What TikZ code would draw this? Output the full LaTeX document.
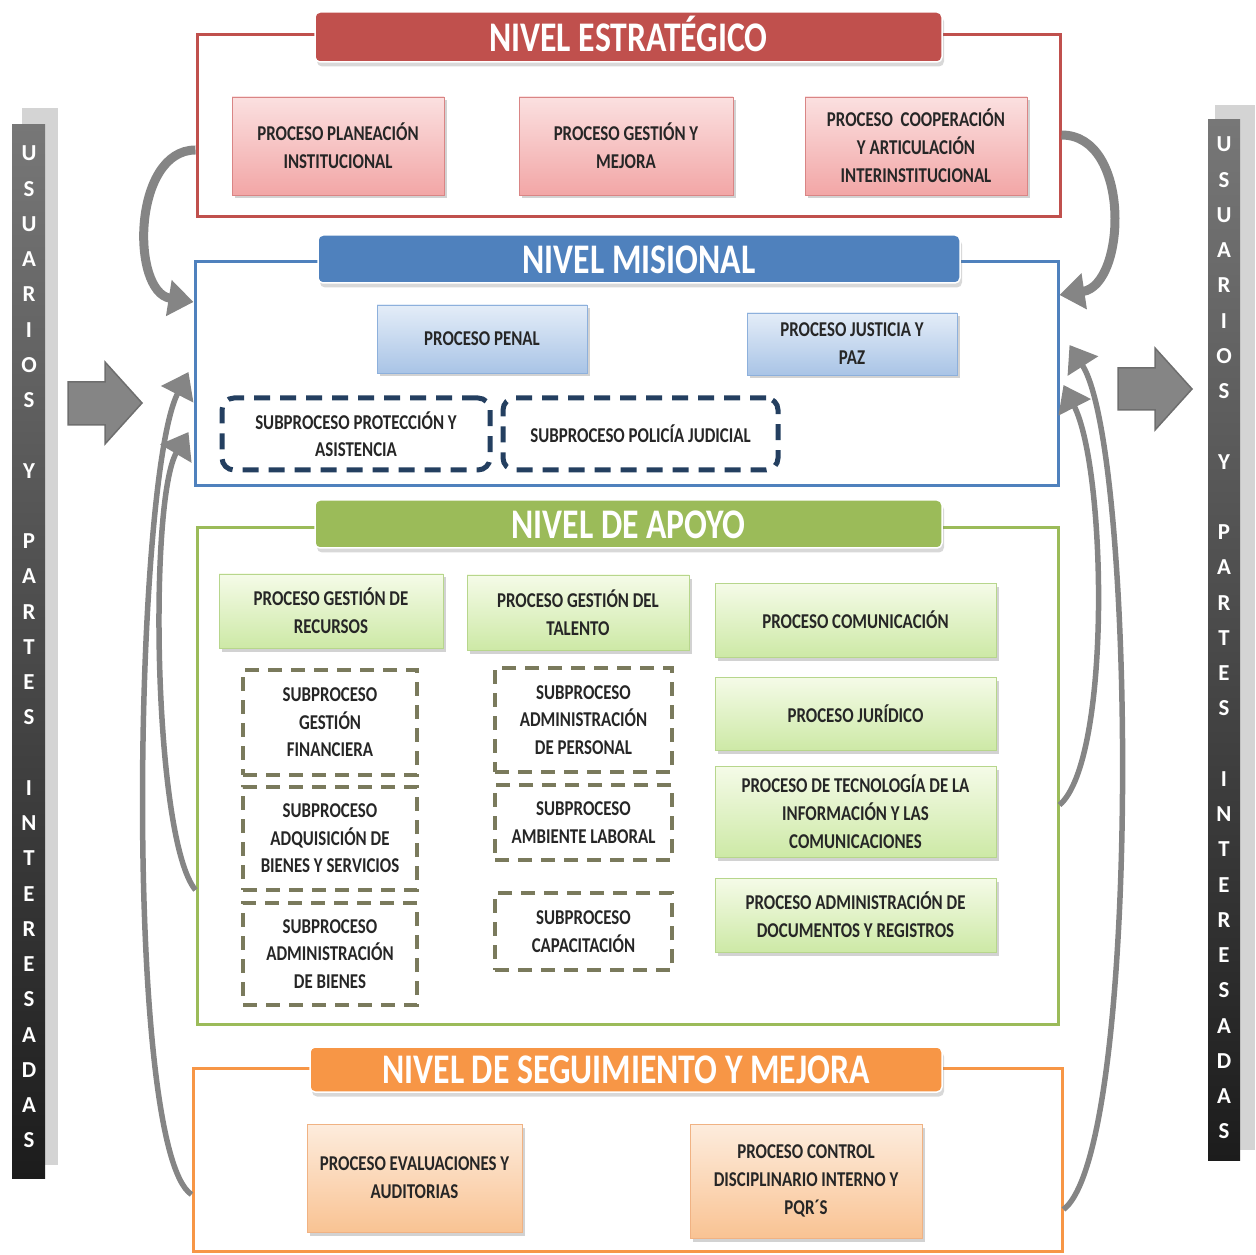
\documentclass[tikz,border=0pt]{standalone}
\usepackage{fontspec}
\setmainfont{Carlito}
\newfontfamily\estrecha[FakeStretch=0.8]{Carlito}
\usetikzlibrary{shadows,arrows.meta}

\definecolor{rojo}{HTML}{C0504D}
\definecolor{rojoborde}{HTML}{D98585}
\definecolor{rojoclaro}{HTML}{FBE0E0}
\definecolor{rojomedio}{HTML}{F2A6A6}
\definecolor{azul}{HTML}{4F81BD}
\definecolor{azulborde}{HTML}{8DB0DC}
\definecolor{azulclaro}{HTML}{E4EDF8}
\definecolor{azulmedio}{HTML}{A9C4E6}
\definecolor{azuloscuro}{HTML}{243F60}
\definecolor{verde}{HTML}{9BBB59}
\definecolor{verdeborde}{HTML}{B7D68C}
\definecolor{verdeclaro}{HTML}{F5FBE8}
\definecolor{verdemedio}{HTML}{CDE9A6}
\definecolor{oliva}{HTML}{7A7A5C}
\definecolor{naranja}{HTML}{F79646}
\definecolor{naranjaborde}{HTML}{F0B283}
\definecolor{naranjaclaro}{HTML}{FDECDD}
\definecolor{naranjamedio}{HTML}{F9C393}
\definecolor{grisflecha}{HTML}{858585}
\definecolor{grisborde}{HTML}{6E6E6E}
\definecolor{grisclaro}{HTML}{D4D4D4}
\definecolor{barraalta}{HTML}{777777}
\definecolor{barrabaja}{HTML}{1C1C1C}

\tikzset{
  sz/.style 2 args={minimum width=#1*0.2mm, minimum height=#2*0.2mm},
  nivel/.style={draw=#1, line width=0.6mm, fill=white, inner sep=0pt},
  titulo/.style={fill=#1, draw=white, line width=0.3mm, rounded corners=1mm,
    text=white, inner sep=0pt, text height=16pt, text depth=0pt,
    font=\estrecha\bfseries\fontsize{24}{24}\selectfont,
    drop shadow={opacity=0.3, shadow xshift=0.4mm, shadow yshift=-0.9mm}},
  proc/.style={align=center, inner sep=0pt, text=black!85,
    font=\estrecha\bfseries\fontsize{12}{16}\selectfont,
    drop shadow={opacity=0.35, shadow xshift=0.5mm, shadow yshift=-0.7mm}},
  procrojo/.style={proc, draw=rojoborde, top color=rojoclaro, bottom color=rojomedio},
  procazul/.style={proc, draw=azulborde, top color=azulclaro, bottom color=azulmedio},
  procverde/.style={proc, draw=verdeborde, top color=verdeclaro, bottom color=verdemedio},
  procnaranja/.style={proc, draw=naranjaborde, top color=naranjaclaro, bottom color=naranjamedio},
  sub/.style={align=center, inner sep=0pt, fill=white, text=black!85,
    font=\estrecha\bfseries\fontsize{12}{15.6}\selectfont},
  subazul/.style={sub, draw=azuloscuro, line width=1mm, dash pattern=on 3.2mm off 2mm, rounded corners=2.4mm},
  subverde/.style={sub, draw=oliva, line width=0.75mm, dash pattern=on 2.8mm off 1.8mm},
  curva/.style={draw=grisflecha, line width=1.1mm, -{Triangle[length=5mm,width=7mm]}},
  bloque/.style={fill=grisflecha, draw=grisborde, line width=0.3mm},
  barra/.style={top color=barraalta, bottom color=barrabaja, inner sep=0pt},
  letras/.style={text=white, align=center, inner sep=0pt,
    font=\bfseries\fontsize{13}{20.06}\selectfont}
}

\begin{document}
\begin{tikzpicture}[x=0.2mm,y=-0.2mm]
  \useasboundingbox (0,0) rectangle (1256,1255);

  % usuarios y partes interesadas
  \fill[grisclaro] (22,108) rectangle (58,1165);
  \fill[grisclaro] (1215,105) rectangle (1255,1150);
  \node[barra, sz={33}{1053}] (barraiz) at (28.5,651.5) {};
  \node[barra, sz={32}{1040}] (barrader) at (1224,640) {};
  \node[letras] (usuiz) at (29,647) {U\\S\\U\\A\\R\\I\\O\\S\\\mbox{}\\Y\\\mbox{}\\P\\A\\R\\T\\E\\S\\\mbox{}\\I\\N\\T\\E\\R\\E\\S\\A\\D\\A\\S};
  \node[letras] (usuder) at (1224,638) {U\\S\\U\\A\\R\\I\\O\\S\\\mbox{}\\Y\\\mbox{}\\P\\A\\R\\T\\E\\S\\\mbox{}\\I\\N\\T\\E\\R\\E\\S\\A\\D\\A\\S};
  \draw[bloque] (68,382) -- (105,382) -- (105,362) -- (142,403) -- (105,444) -- (105,425) -- (68,425) -- cycle;
  \draw[bloque] (1118,368) -- (1155,368) -- (1155,348) -- (1192,389) -- (1155,430) -- (1155,410) -- (1118,410) -- cycle;

  % niveles
  \node[nivel=rojo, sz={863}{182}] (estr) at (628.5,126) {};
  \node[nivel=azul, sz={863}{224}] (mis) at (626.5,374) {};
  \node[nivel=verde, sz={861}{496}] (apo) at (627.5,776) {};
  \node[nivel=naranja, sz={869}{183}] (seg) at (627.5,1159.5) {};

  \node[titulo=rojo, sz={627}{50}] (estrtit) at (628.5,37) {NIVEL ESTRATÉGICO};
  \node[titulo=azul, sz={642}{48}] (mistit) at (639,259) {NIVEL MISIONAL};
  \node[titulo=verde, sz={627}{48}] (apotit) at (628.5,524) {NIVEL DE APOYO};
  \node[titulo=naranja, sz={632}{45}] (segtit) at (626,1069.5) {NIVEL DE SEGUIMIENTO Y MEJORA};

  % estrategico
  \node[procrojo, sz={212}{98}] (planea) at (338,146) {PROCESO PLANEACIÓN\\INSTITUCIONAL};
  \node[procrojo, sz={214}{98}] (gestion) at (626,146) {PROCESO GESTIÓN Y\\MEJORA};
  \node[procrojo, sz={222}{98}] (coop) at (916,146) {PROCESO\ \ COOPERACIÓN\\Y ARTICULACIÓN\\INTERINSTITUCIONAL};

  % misional
  \node[procazul, sz={210}{68}] (penal) at (482,339) {PROCESO PENAL};
  \node[procazul, sz={210}{62}] (justicia) at (852,344) {PROCESO JUSTICIA Y\\PAZ};
  \node[subazul, sz={268}{72}] (proteccion) at (356,434) {SUBPROCESO PROTECCIÓN Y\\ASISTENCIA};
  \node[subazul, sz={275}{72}] (policia) at (640.5,434) {SUBPROCESO POLICÍA JUDICIAL};

  % apoyo
  \node[procverde, sz={224}{74}] (recursos) at (331,611) {PROCESO GESTIÓN DE\\RECURSOS};
  \node[procverde, sz={222}{75}] (talento) at (578,612.5) {PROCESO GESTIÓN DEL\\TALENTO};
  \node[procverde, sz={281}{74}] (comunic) at (855.5,620) {PROCESO COMUNICACIÓN};
  \node[procverde, sz={281}{73}] (juridico) at (855.5,713.5) {PROCESO JURÍDICO};
  \node[procverde, sz={281}{91}] (tecno) at (855.5,811.5) {PROCESO DE TECNOLOGÍA DE LA\\INFORMACIÓN Y LAS\\COMUNICACIONES};
  \node[procverde, sz={281}{74}] (docs) at (855.5,915) {PROCESO ADMINISTRACIÓN DE\\DOCUMENTOS Y REGISTROS};
  \node[subverde, sz={174}{105}] (financ) at (330,722.5) {SUBPROCESO\\GESTIÓN\\FINANCIERA};
  \node[subverde, sz={174}{103}] (adquis) at (330,838.5) {SUBPROCESO\\ADQUISICIÓN DE\\BIENES Y SERVICIOS};
  \node[subverde, sz={174}{102}] (adbienes) at (330,954) {SUBPROCESO\\ADMINISTRACIÓN\\DE BIENES};
  \node[subverde, sz={177}{104}] (adpers) at (583.5,720) {SUBPROCESO\\ADMINISTRACIÓN\\DE PERSONAL};
  \node[subverde, sz={177}{75}] (ambiente) at (583.5,822.5) {SUBPROCESO\\AMBIENTE LABORAL};
  \node[subverde, sz={177}{77}] (capacit) at (583.5,931.5) {SUBPROCESO\\CAPACITACIÓN};

  % seguimiento
  \node[procnaranja, sz={215}{108}] (evalua) at (414.5,1178) {PROCESO EVALUACIONES Y\\AUDITORIAS};
  \node[procnaranja, sz={232}{114}] (control) at (806,1181) {PROCESO CONTROL\\DISCIPLINARIO INTERNO Y\\PQR´S};

  % flechas curvas
  \draw[curva, line width=1.8mm] ([yshift=-4.8mm]estr.west) .. controls +(-63,0) and +(-63,-10) .. ([yshift=14.4mm]mis.west);
  \draw[curva, line width=1.8mm] ([yshift=-1.8mm]estr.east) .. controls +(70,0) and +(67,-10) .. ([yshift=15.8mm]mis.east);
  \draw[curva] ([yshift=-7mm]seg.west) .. controls +(-68,-45) and +(-55,108) .. ([xshift=-1mm,yshift=0.4mm]mis.west);
  \draw[curva] ([yshift=-22.8mm]apo.west) .. controls +(-42,-50) and +(-40,68) .. ([xshift=-1mm,yshift=-11.6mm]mis.west);
  \draw[curva] ([yshift=-10mm]seg.east) .. controls +(78,-60) and +(67,105) .. ([xshift=2mm,yshift=5.8mm]mis.east);
  \draw[curva] ([yshift=-5.8mm]apo.east) .. controls +(52,-45) and +(43,85) .. ([xshift=0.8mm,yshift=-2.2mm]mis.east);
\end{tikzpicture}
\end{document}
